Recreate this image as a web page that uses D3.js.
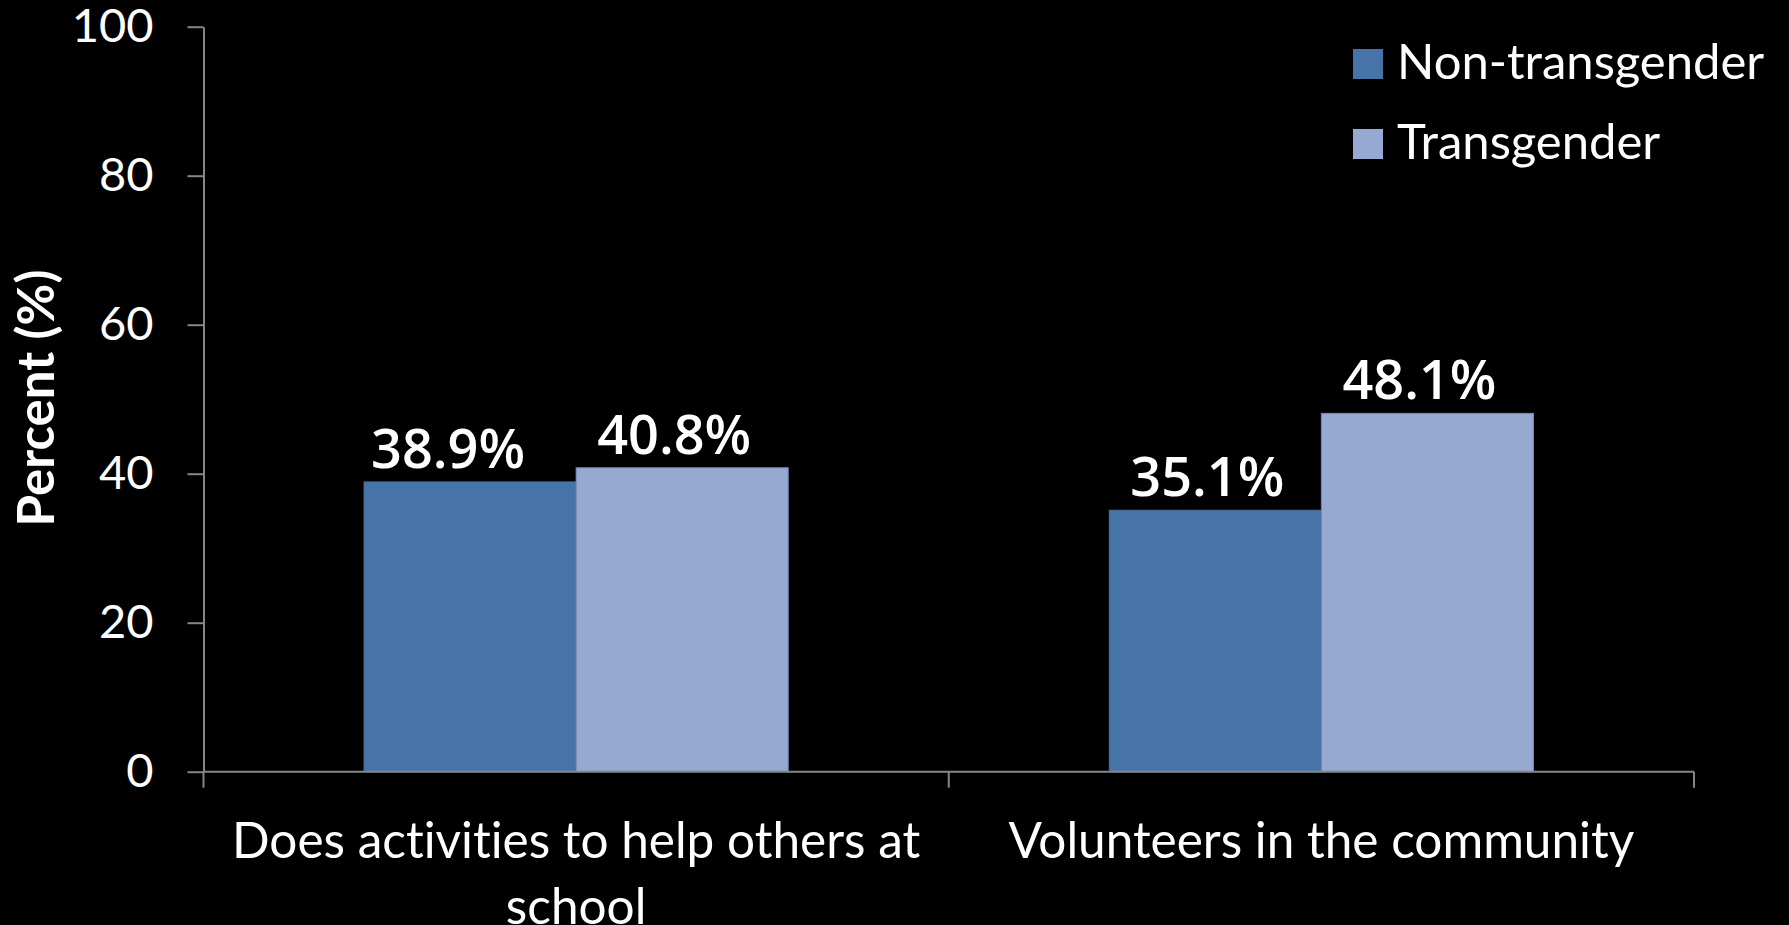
<!DOCTYPE html>
<html>
<head>
<meta charset="utf-8">
<script src="https://cdn.jsdelivr.net/npm/d3@7"></script>
<style>
  html, body { margin: 0; padding: 0; background: #000; }
  svg { display: block; }
  text { font-variant-ligatures: none; font-feature-settings: "liga" 0, "clig" 0; }
</style>
</head>
<body>
<svg id="chart" width="1789" height="925"></svg>
<script>
// ---- data ----
const categories = ["Does activities to help others at school", "Volunteers in the community"];
const seriesNames = ["Non-transgender", "Transgender"];
const nonTransgender = [38.9, 35.1];
const transgender = [40.8, 48.1];
const yTicks = [0, 20, 40, 60, 80, 100];
const yTitle = "Percent (%)";

(function () {
const seriesValues = [nonTransgender, transgender];
const colors = ["#4674A8", "#95A9D1"];
const strokes = ["#4A6C98", "#7688AE"];
// per-label horizontal nudges (layout only): [category][series]
const labelDx = [[-22, -8], [-8, -8]];

// ---- layout ----
const W = 1789, H = 925;
const pLeft = 203.5, pRight = 1694, pTop = 26.7, pBottom = 771.7;
const axisColor = "#868686";
const svg = d3.select("#chart");
svg.append("rect").attr("width", W).attr("height", H).attr("fill", "#000");

const x0 = d3.scaleBand().domain(categories).range([pLeft, pRight]).paddingInner(0).paddingOuter(0);
const x1 = d3.scaleBand().domain(seriesNames).range([0, x0.bandwidth()]).paddingInner(0).paddingOuter(0.757);
const y = d3.scaleLinear().domain([0, 100]).range([pBottom, pTop]);

// bars
const rows = [];
categories.forEach((c, ci) => {
  seriesNames.forEach((s, si) => rows.push({ c, ci, s, si, v: seriesValues[si][ci] }));
});

svg.append("g").selectAll("rect").data(rows).join("rect")
  .attr("x", d => x0(d.c) + x1(d.s))
  .attr("y", d => y(d.v))
  .attr("width", x1.bandwidth())
  .attr("height", d => y(0) - y(d.v))
  .attr("fill", d => colors[d.si])
  .attr("stroke", d => strokes[d.si])
  .attr("stroke-width", 1);

// value labels
svg.append("g").selectAll("text").data(rows).join("text")
  .attr("x", d => x0(d.c) + x1(d.s) + x1.bandwidth() / 2 + labelDx[d.ci][d.si])
  .attr("y", d => y(d.v) - 14)
  .attr("text-anchor", "middle")
  .attr("fill", "#fff")
  .style("font-family", "'Open Sans', sans-serif")
  .style("font-weight", 600)
  .style("font-size", "54px")
  .text(d => d.v.toFixed(1) + "%");

// y axis
const yAxis = d3.axisLeft(y).tickValues(yTicks).tickSize(16).tickSizeOuter(0).tickPadding(34);
const gy = svg.append("g").attr("transform", `translate(${pLeft},0)`).call(yAxis);
gy.select(".domain").attr("stroke", axisColor).attr("stroke-width", 2);
gy.selectAll(".tick line").attr("stroke", axisColor).attr("stroke-width", 2);
gy.selectAll(".tick text")
  .attr("fill", "#fff")
  .style("font-family", "Lato, sans-serif")
  .style("font-size", "47px");

// x axis
const gx = svg.append("g");
gx.append("line").attr("x1", pLeft).attr("x2", pRight).attr("y1", y(0)).attr("y2", y(0))
  .attr("stroke", axisColor).attr("stroke-width", 2);
const bounds = categories.map(c => x0(c)).concat([x0(categories[categories.length - 1]) + x0.step()]);
gx.selectAll("line.tk").data(bounds).join("line").attr("class", "tk")
  .attr("x1", d => d).attr("x2", d => d)
  .attr("y1", y(0)).attr("y2", y(0) + 16)
  .attr("stroke", axisColor).attr("stroke-width", 2);

// category labels with wrapping
const catG = gx.selectAll("text.cat").data(categories).join("text").attr("class", "cat")
  .attr("x", d => x0(d) + x0.bandwidth() / 2)
  .attr("y", 858)
  .attr("text-anchor", "middle")
  .attr("fill", "#fff")
  .style("font-family", "Lato, sans-serif")
  .style("font-size", "49.5px");
catG.each(function (d) {
  const t = d3.select(this);
  const words = d.split(" ");
  const maxW = x0.bandwidth() - 10;
  let line = [];
  let tspan = t.append("tspan").attr("x", t.attr("x")).attr("dy", 0);
  words.forEach(w => {
    line.push(w);
    tspan.text(line.join(" "));
    if (tspan.node().getComputedTextLength() > maxW && line.length > 1) {
      line.pop();
      tspan.text(line.join(" "));
      line = [w];
      tspan = t.append("tspan").attr("x", t.attr("x")).attr("dy", 66).text(w);
    }
  });
});

// y title
svg.append("text")
  .attr("transform", `translate(54,398) rotate(-90)`)
  .attr("text-anchor", "middle")
  .attr("fill", "#fff")
  .style("font-family", "Lato, sans-serif")
  .style("font-weight", 700)
  .style("font-size", "51px")
  .text(yTitle);

// legend
const lg = svg.append("g").selectAll("g").data(seriesNames).join("g")
  .attr("transform", (d, i) => `translate(1353,${49 + i * 80})`);
lg.append("rect").attr("width", 30).attr("height", 30).attr("fill", (d, i) => colors[i]);
lg.append("text").attr("x", 44).attr("y", 30)
  .attr("fill", "#fff")
  .style("font-family", "Lato, sans-serif")
  .style("font-size", "49px")
  .text(d => d);
})();
</script>
</body>
</html>
